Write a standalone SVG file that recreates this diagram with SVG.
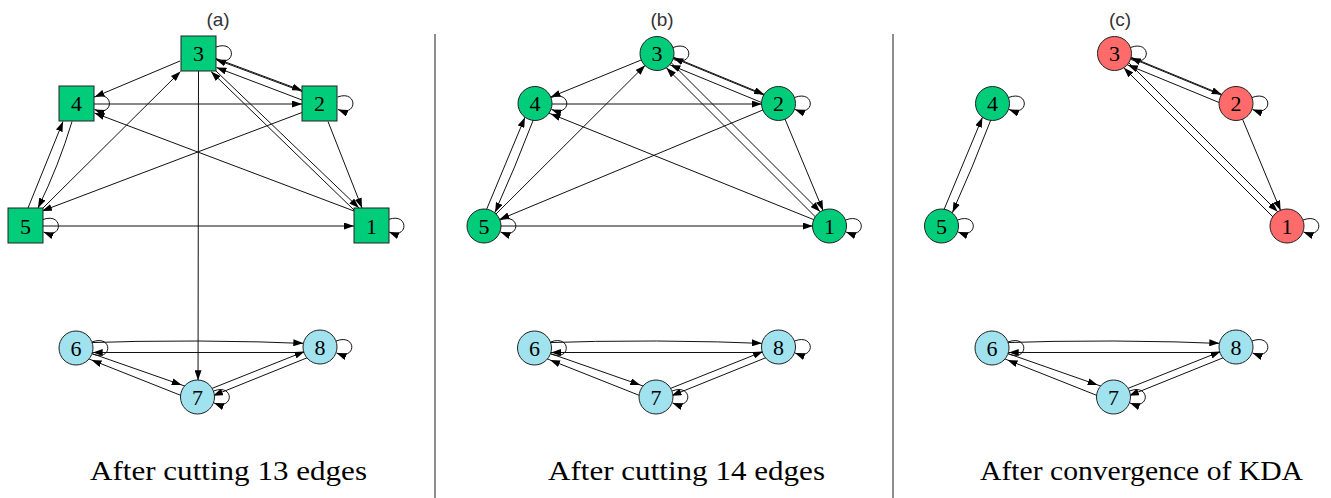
<svg xmlns="http://www.w3.org/2000/svg" width="1331" height="498" viewBox="0 0 1331 498">
<defs>
<marker id="ah" markerUnits="userSpaceOnUse" markerWidth="10" markerHeight="7" refX="10" refY="3.5" orient="auto"><path d="M0,0 L10,3.5 L0,7 z" fill="#000"/></marker>
<marker id="ahc" markerUnits="userSpaceOnUse" markerWidth="10" markerHeight="7" refX="26.7" refY="3.5" orient="auto"><path d="M0,0 L10,3.5 L0,7 z" fill="#000"/></marker>
</defs>
<style>
.e{fill:none;stroke:#111;stroke-width:1}
.ea{fill:none;stroke:#111;stroke-width:1;marker-end:url(#ah)}
.ec{fill:none;stroke:#111;stroke-width:1;marker-end:url(#ahc)}
.g{fill:#00cc7a;stroke:#222;stroke-width:1}
.r{fill:#ff6b6b;stroke:#222;stroke-width:1}
.b{fill:#a0e2ee;stroke:#222;stroke-width:1}
.n{font-family:'Liberation Serif','DejaVu Serif','Noto Serif',serif;font-size:22px;text-anchor:middle;fill:#000}
.pl{font-family:'Liberation Sans',Arial,sans-serif;font-size:19px;text-anchor:middle;fill:#333}
.cap{font-family:'Liberation Serif','DejaVu Serif','Noto Serif',serif;font-size:28px;fill:#000}
.div{stroke:#444;stroke-width:1.2}
</style>
<rect width="1331" height="498" fill="#fff"/>

<text class="pl" x="218" y="26">(a)</text>
<text class="pl" x="662" y="26">(b)</text>
<text class="pl" x="1120" y="26">(c)</text>
<line class="div" x1="435" y1="34" x2="435" y2="498"/>
<line class="div" x1="893" y1="34" x2="893" y2="498"/>

<g id="panel-a">
<g id="a-edges">
<path class="ea" d="M180,61 L94.5,97"/>
<path class="ea" d="M94,104 L302,104"/>
<path class="ea" d="M354,211 L94.5,113"/>
<path class="ea" d="M28,208 L63,121.5"/>
<path class="ea" d="M72,121.5 Q59,165 38,208"/>
<path class="ea" d="M42,209 L180.5,71.5"/>
<path class="ea" d="M302,112.5 L42,211"/>
<path class="ea" d="M43,226 L354,226"/>
<path class="ec" d="M198.5,71 L198,397"/>
<path class="ea" d="M216,58.5 L302,90.5"/>
<path class="ea" d="M302,91.5 L216,59.5"/>
<path class="ea" d="M302,100 L216.5,67.5"/>
<path class="ea" d="M216,71 L359,208"/>
<path class="ea" d="M354,210 L211,71.5"/>
<path class="ea" d="M328,121.5 L362,208"/>
<path class="e" d="M216,47 C236.5,39.5 236.5,67.5 216.5,59.5"/>
<path class="ea" d="M94,97 C114.5,89.5 114.5,117.5 94.5,109.5"/>
<path class="ea" d="M337.5,97 C358,89.5 358,117.5 338,109.5"/>
<path class="ea" d="M43,219.5 C63.5,212 63.5,240 43.5,232"/>
<path class="ea" d="M388.5,219.5 C409,212 409,240 389,232"/>
<path class="ec" d="M76,343 Q198,338.5 320,344"/>
<path class="ec" d="M320,352.5 L76,352.5"/>
<path class="ec" d="M76,348 L197.5,390.5"/>
<path class="ec" d="M197.5,402 L76,353.8"/>
<path class="ec" d="M197.5,394.2 L320,345.3"/>
<path class="ec" d="M320,352.6 L197.5,402"/>
<path class="e" d="M92,342 C113,334 113,362 92.5,354"/>
<path class="ea" d="M213.5,391 C234.5,383 234.5,411 214,403"/>
<path class="ea" d="M336,341 C357,333 357,361 336.5,353"/>
</g>
<g id="a-n3"><rect class="g" x="181" y="36" width="35" height="35"/><text class="n" x="198.5" y="61">3</text></g>
<g id="a-n4"><rect class="g" x="59" y="86" width="35" height="35"/><text class="n" x="76.5" y="111">4</text></g>
<g id="a-n2"><rect class="g" x="302" y="86" width="35" height="35"/><text class="n" x="319.5" y="111">2</text></g>
<g id="a-n5"><rect class="g" x="8" y="208" width="35" height="35"/><text class="n" x="25.5" y="233.5">5</text></g>
<g id="a-n1"><rect class="g" x="354" y="208" width="35" height="35"/><text class="n" x="371.5" y="233.5">1</text></g>
<g id="a-n6"><circle class="b" cx="76" cy="348" r="17"/><text class="n" x="76" y="355.5">6</text></g>
<g id="a-n7"><circle class="b" cx="197.5" cy="397" r="17"/><text class="n" x="197.5" y="404.5">7</text></g>
<g id="a-n8"><circle class="b" cx="320" cy="347" r="17"/><text class="n" x="320" y="354.5">8</text></g>
</g>

<g id="panel-b" transform="translate(458.5,0)">
<g id="b-edges">
<path class="ec" d="M198.5,53.5 L76.5,103.5"/>
<path class="ec" d="M76.5,104 L320,104"/>
<path class="ec" d="M371,226 L76.5,107.5"/>
<path class="ec" d="M21.8,224.5 L72.8,102"/>
<path class="ec" d="M80.7,105.2 Q57,167.3 29.7,227.7"/>
<path class="ec" d="M25.5,226 L198.5,53.5"/>
<path class="ec" d="M320,103.5 L25.5,226"/>
<path class="ec" d="M25.5,226 L371,226"/>
<path class="ec" d="M199.6,50.8 L321.1,100.8"/>
<path class="ec" d="M320.9,101.6 L199.4,51.6"/>
<path class="ec" d="M317.9,108.6 L196.4,58.6"/>
<path class="ec" d="M201,51 L373.5,223.5"/>
<path class="ec" d="M368.5,228.5 L196,56"/>
<path class="ec" d="M320,103.5 L371,226"/>
<path class="e" d="M214.5,47.5 C235.5,39.5 235.5,67.5 215,59.5"/>
<path class="ea" d="M92.5,97.5 C113.5,89.5 113.5,117.5 93,109.5"/>
<path class="ea" d="M336,97.5 C357,89.5 357,117.5 336.5,109.5"/>
<path class="ea" d="M41.5,220 C62.5,212 62.5,240 42,232"/>
<path class="ea" d="M387,220 C408,212 408,240 387.5,232"/>
<path class="ec" d="M76,343 Q198,338.5 320,344"/>
<path class="ec" d="M320,352.5 L76,352.5"/>
<path class="ec" d="M76,348 L197.5,390.5"/>
<path class="ec" d="M197.5,402 L76,353.8"/>
<path class="ec" d="M197.5,394.2 L320,345.3"/>
<path class="ec" d="M320,352.6 L197.5,402"/>
<path class="e" d="M92,342 C113,334 113,362 92.5,354"/>
<path class="ea" d="M213.5,391 C234.5,383 234.5,411 214,403"/>
<path class="ea" d="M336,341 C357,333 357,361 336.5,353"/>
</g>
<g id="b-n3"><circle class="g" cx="198.5" cy="53.5" r="17"/><text class="n" x="198.5" y="61">3</text></g>
<g id="b-n4"><circle class="g" cx="76.5" cy="103.5" r="17"/><text class="n" x="76.5" y="111">4</text></g>
<g id="b-n2"><circle class="g" cx="320" cy="103.5" r="17"/><text class="n" x="320" y="111">2</text></g>
<g id="b-n5"><circle class="g" cx="25.5" cy="226" r="17"/><text class="n" x="25.5" y="233.5">5</text></g>
<g id="b-n1"><circle class="g" cx="371" cy="226" r="17"/><text class="n" x="371" y="233.5">1</text></g>
<g id="b-n6"><circle class="b" cx="76" cy="348" r="17"/><text class="n" x="76" y="355.5">6</text></g>
<g id="b-n7"><circle class="b" cx="197.5" cy="397" r="17"/><text class="n" x="197.5" y="404.5">7</text></g>
<g id="b-n8"><circle class="b" cx="320" cy="347" r="17"/><text class="n" x="320" y="354.5">8</text></g>
</g>

<g id="panel-c" transform="translate(916,0)">
<g id="c-edges">
<path class="ec" d="M21.8,224.5 L72.8,102"/>
<path class="ec" d="M80.7,105.2 Q57,167.3 29.7,227.7"/>
<path class="ec" d="M199.6,50.8 L321.1,100.8"/>
<path class="ec" d="M320.9,101.6 L199.4,51.6"/>
<path class="ec" d="M317.9,108.6 L196.4,58.6"/>
<path class="ec" d="M201,51 L373.5,223.5"/>
<path class="ec" d="M368.5,228.5 L196,56"/>
<path class="ec" d="M320,103.5 L371,226"/>
<path class="e" d="M214.5,47.5 C235.5,39.5 235.5,67.5 215,59.5"/>
<path class="ea" d="M92.5,97.5 C113.5,89.5 113.5,117.5 93,109.5"/>
<path class="ea" d="M336,97.5 C357,89.5 357,117.5 336.5,109.5"/>
<path class="ea" d="M41.5,220 C62.5,212 62.5,240 42,232"/>
<path class="ea" d="M387,220 C408,212 408,240 387.5,232"/>
<path class="ec" d="M76,343 Q198,338.5 320,344"/>
<path class="ec" d="M320,352.5 L76,352.5"/>
<path class="ec" d="M76,348 L197.5,390.5"/>
<path class="ec" d="M197.5,402 L76,353.8"/>
<path class="ec" d="M197.5,394.2 L320,345.3"/>
<path class="ec" d="M320,352.6 L197.5,402"/>
<path class="e" d="M92,342 C113,334 113,362 92.5,354"/>
<path class="ea" d="M213.5,391 C234.5,383 234.5,411 214,403"/>
<path class="ea" d="M336,341 C357,333 357,361 336.5,353"/>
</g>
<g id="c-n3"><circle class="r" cx="198.5" cy="53.5" r="17"/><text class="n" x="198.5" y="61">3</text></g>
<g id="c-n4"><circle class="g" cx="76.5" cy="103.5" r="17"/><text class="n" x="76.5" y="111">4</text></g>
<g id="c-n2"><circle class="r" cx="320" cy="103.5" r="17"/><text class="n" x="320" y="111">2</text></g>
<g id="c-n5"><circle class="g" cx="25.5" cy="226" r="17"/><text class="n" x="25.5" y="233.5">5</text></g>
<g id="c-n1"><circle class="r" cx="371" cy="226" r="17"/><text class="n" x="371" y="233.5">1</text></g>
<g id="c-n6"><circle class="b" cx="76" cy="348" r="17"/><text class="n" x="76" y="355.5">6</text></g>
<g id="c-n7"><circle class="b" cx="197.5" cy="397" r="17"/><text class="n" x="197.5" y="404.5">7</text></g>
<g id="c-n8"><circle class="b" cx="320" cy="347" r="17"/><text class="n" x="320" y="354.5">8</text></g>
</g>

<text class="cap" x="90" y="480" textLength="277" lengthAdjust="spacingAndGlyphs">After cutting 13 edges</text>
<text class="cap" x="548" y="480" textLength="277" lengthAdjust="spacingAndGlyphs">After cutting 14 edges</text>
<text class="cap" x="980" y="480" textLength="323" lengthAdjust="spacingAndGlyphs">After convergence of KDA</text>
</svg>
